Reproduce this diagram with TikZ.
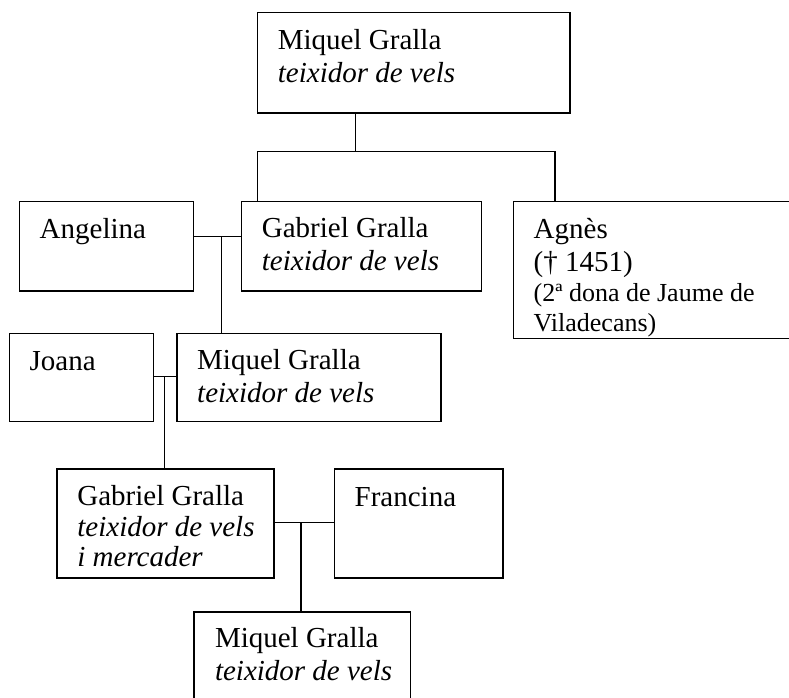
\documentclass[tikz,border=0pt]{standalone}
\usepackage{fontspec}
\setmainfont{Liberation Serif}
\usepackage{tikz}

\begin{document}
\begin{tikzpicture}[x=1pt, y=-1pt,
    box/.style={draw, line width=1.5pt, inner sep=0pt, anchor=north west},
    who/.style={anchor=base west, inner sep=0pt, align=left, font=\fontsize{29}{33}\selectfont},
    link/.style={line width=1.2pt}]
  \useasboundingbox (0,0) rectangle (789,698);
  % boxes
  \node[box, minimum width=312.5pt, minimum height=100.6pt] (miquelA) at (256.7,11.7) {};
  \node[box, minimum width=174.2pt, minimum height=89.3pt] (angelina) at (18.5,200.7) {};
  \node[box, minimum width=240pt, minimum height=89.3pt] (gabrielA) at (240.7,200.7) {};
  \node[box, minimum width=280pt, minimum height=137pt] (agnes) at (512.5,200.7) {};
  \node[box, minimum width=144.2pt, minimum height=88.2pt] (joana) at (8.5,332.5) {};
  \node[box, minimum width=264.3pt, minimum height=88.2pt] (miquelB) at (176,332.5) {};
  \node[box, minimum width=216.8pt, minimum height=109pt] (gabrielB) at (56.2,468.3) {};
  \node[box, minimum width=168.8pt, minimum height=109pt] (francina) at (333.5,468.3) {};
  \node[box, minimum width=216.2pt, minimum height=100pt] (miquelC) at (193.3,611) {}; % runs off the page
  % texts (base = last line)
  \node[who] (tMiquelA) at ([shift={(21,71)}]miquelA.north west) {Miquel Gralla\\\textit{teixidor de vels}};
  \node[who] (tAngelina) at ([shift={(21,38)}]angelina.north west) {Angelina};
  \node[who] (tGabrielA) at ([shift={(21,70)}]gabrielA.north west) {Gabriel Gralla\\\textit{teixidor de vels}};
  \node[who] (tAgnes) at ([shift={(21,131)}]agnes.north west)
    {Agnès\\(† 1451)\\[-3pt]\fontsize{26}{30}\selectfont(2ª dona de Jaume de\\[-3pt]\fontsize{26}{30}\selectfont Viladecans)};
  \node[who] (tJoana) at ([shift={(21,37.5)}]joana.north west) {Joana};
  \node[who] (tMiquelB) at ([shift={(21,69.5)}]miquelB.north west) {Miquel Gralla\\\textit{teixidor de vels}};
  \node[who] (tGabrielB) at ([shift={(21,98.5)}]gabrielB.north west)
    {Gabriel Gralla\\[-2.5pt]\textit{teixidor de vels}\\[-2.5pt]\textit{i mercader}};
  \node[who] (tFrancina) at ([shift={(21,38.5)}]francina.north west) {Francina};
  \node[who] (tMiquelC) at ([shift={(21.5,69)}]miquelC.north west) {Miquel Gralla\\\textit{teixidor de vels}};
  % children of the first Miquel
  \coordinate (kids) at (355.8,151.7);
  \draw[link] (kids |- miquelA.south) -- (kids);
  \draw[link] ([xshift=17pt]gabrielA.north west) |- (kids) -| ([xshift=42.5pt]agnes.north west);
  % marriages
  \coordinate (wedA) at (221.4,236.7);
  \draw[link] (angelina.east |- wedA) -- (gabrielA.west |- wedA);
  \draw[link] (wedA) -- (wedA |- miquelB.north);
  \coordinate (wedB) at (164.5,376.7);
  \draw[link] (joana.east |- wedB) -- (miquelB.west |- wedB);
  \draw[link] (wedB) -- (wedB |- gabrielB.north);
  \coordinate (wedC) at (301,522.7);
  \draw[link] (gabrielB.east |- wedC) -- (francina.west |- wedC);
  \draw[link] (wedC) -- (wedC |- miquelC.north);
\end{tikzpicture}
\end{document}
